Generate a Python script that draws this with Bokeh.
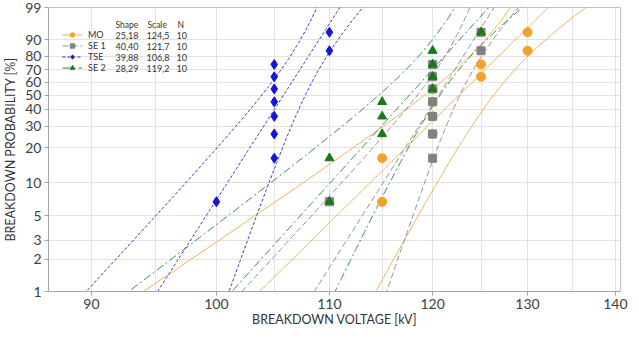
import numpy as np
from bokeh.plotting import figure
from bokeh.models import (Range1d, FixedTicker, NumeralTickFormatter, Legend,
                          LegendItem, Label)
from bokeh.embed import file_html
from bokeh.resources import INLINE

# ---------------- data ----------------
series_names = ["MO", "SE 1", "TSE", "SE 2"]
shape = [25.18, 40.40, 39.88, 28.29]
scale = [124.5, 121.7, 106.8, 119.2]
n_obs = [10, 10, 10, 10]
shape_txt = ["25,18", "40,40", "39,88", "28,29"]
scale_txt = ["124,5", "121,7", "106,8", "119,2"]
mo_kv = [115, 115, 120, 120, 120, 120, 125, 125, 130, 130]
se1_kv = [110, 120, 120, 120, 120, 120, 120, 120, 125, 125]
tse_kv = [100, 105, 105, 105, 105, 105, 105, 105, 110, 110]
se2_kv = [110, 110, 115, 115, 115, 120, 120, 120, 120, 125]
x_ticks = [90, 100, 110, 120, 130, 140]
x_minor = [95, 105, 115, 125, 135]
y_ticks_pct = [1, 2, 3, 5, 10, 20, 30, 40, 50, 60, 70, 80, 90, 99]

FONT = "Lato"
colors_mark = ["#F5A02A", "#808080", "#1414DC", "#177A1A"]
colors_line = ["#F0AE52", "#8C8C8C", "#2B2BC0", "#2F8A3E"]
dashes = ["solid", "6 3", "3 2", "8 3 2 3"]
markers = ["circle", "square", "diamond", "triangle"]
msizes = [9, 8, 10, 9]


def wtrans(pct):
    p = np.asarray(pct, dtype=float) / 100.0
    return np.log(-np.log(1.0 - p))


def fit_and_bounds(data, beta, eta, w):
    y = np.log(np.asarray(data, dtype=float))
    b = 1.0 / beta
    u = np.log(eta)
    z = (y - u) / b
    ez = np.exp(z)
    iuu = ez.sum()
    iub = (ez - 1).sum() + (z * ez).sum()
    ibb = -(1 + 2 * z - 2 * z * ez - z * z * ez).sum()
    info = np.array([[iuu, iub], [iub, ibb]]) / b ** 2
    cov = np.linalg.inv(info)
    var = cov[0, 0] + 2 * w * cov[0, 1] + w * w * cov[1, 1]
    yp = u + b * w
    se = np.sqrt(var)
    return np.exp(yp), np.exp(yp - 1.96 * se), np.exp(yp + 1.96 * se)


all_data = [mo_kv, se1_kv, tse_kv, se2_kv]

H = 284
p = figure(frame_width=572, frame_height=H, x_axis_type="log",
           output_backend="svg", toolbar_location=None,
           min_border_left=0, min_border_bottom=0, min_border_top=7,
           min_border_right=10)
p.x_range = Range1d(86.8, 140.6)
p.y_range = Range1d(float(wtrans(1)), float(wtrans(99)))
p.outline_line_color = "#c4c4c4"
p.background_fill_color = "white"

p.xaxis.ticker = FixedTicker(ticks=x_ticks, minor_ticks=x_minor)
p.xaxis.formatter = NumeralTickFormatter(format="0")
p.yaxis.ticker = FixedTicker(ticks=list(wtrans(y_ticks_pct)))
p.yaxis.major_label_overrides = {float(v): str(t) for v, t in zip(wtrans(y_ticks_pct), y_ticks_pct)}

for ax in (p.xaxis, p.yaxis):
    ax.axis_line_color = "#a6a6a6"
    ax.major_tick_line_color = "#a6a6a6"
    ax.major_tick_out = 4
    ax.major_tick_in = 0
    ax.minor_tick_line_color = None
    ax.major_label_text_font = FONT
    ax.major_label_text_font_size = "14px"
    ax.major_label_text_color = "#404040"
    ax.major_label_standoff = 3
    ax.axis_label_text_font = FONT
    ax.axis_label_text_font_size = "12.5px"
    ax.axis_label_text_font_style = "normal"
    ax.axis_label_text_color = "#333333"
    ax.axis_label_standoff = 4
p.xaxis.axis_label_standoff = 0
p.xaxis.axis_label = "BREAKDOWN VOLTAGE [kV]"
p.yaxis.axis_label = "BREAKDOWN PROBABILITY [%]"

p.xgrid.grid_line_color = "#e3e3e3"
p.xgrid.minor_grid_line_color = "#e3e3e3"
p.ygrid.grid_line_color = "#e3e3e3"

w = np.linspace(-5.6, 2.2, 300)
center_lines = []
for i, data in enumerate(all_data):
    xc, xl, xu = fit_and_bounds(data, shape[i], scale[i], w)
    kw = dict(line_color=colors_line[i], line_width=1, line_dash=dashes[i])
    r = p.line(xc, w, **kw)
    p.line(xl, w, **kw)
    p.line(xu, w, **kw)
    center_lines.append(r)

scatters = []
for i, data in enumerate(all_data):
    n = len(data)
    ranks = np.arange(1, n + 1)
    F = (ranks - 0.3) / (n + 0.4) * 100
    s = p.scatter(data, wtrans(F), marker=markers[i], size=msizes[i],
                  fill_color=colors_mark[i], line_color=colors_mark[i])
    scatters.append(s)

leg_h = 44
legend = Legend(items=[LegendItem(label=series_names[i], renderers=[center_lines[i], scatters[i]])
                       for i in range(4)],
                location=(14, H - 22 - leg_h), glyph_width=20, glyph_height=11,
                label_height=11, spacing=0, padding=0, margin=0,
                label_standoff=6, border_line_color=None,
                background_fill_alpha=0, label_text_font=FONT,
                label_text_font_size="9px", label_text_color="#333333")
p.add_layout(legend)

lab_kw = dict(x_units="screen", y_units="screen", text_font=FONT,
              text_color="#333333", text_baseline="middle")
for txt, x in zip(["Shape", "Scale", "N"], [67, 99, 129]):
    p.add_layout(Label(x=x, y=H - 17, text=txt, text_font_size="8.5px", **lab_kw))
for i in range(4):
    yy = H - 27.5 - 11 * i
    p.add_layout(Label(x=67, y=yy, text=shape_txt[i], text_font_size="9px", **lab_kw))
    p.add_layout(Label(x=98, y=yy, text=scale_txt[i], text_font_size="9px", **lab_kw))
    p.add_layout(Label(x=128, y=yy, text=str(n_obs[i]), text_font_size="9px", **lab_kw))

open("out.html", "w").write(file_html(p, INLINE))
